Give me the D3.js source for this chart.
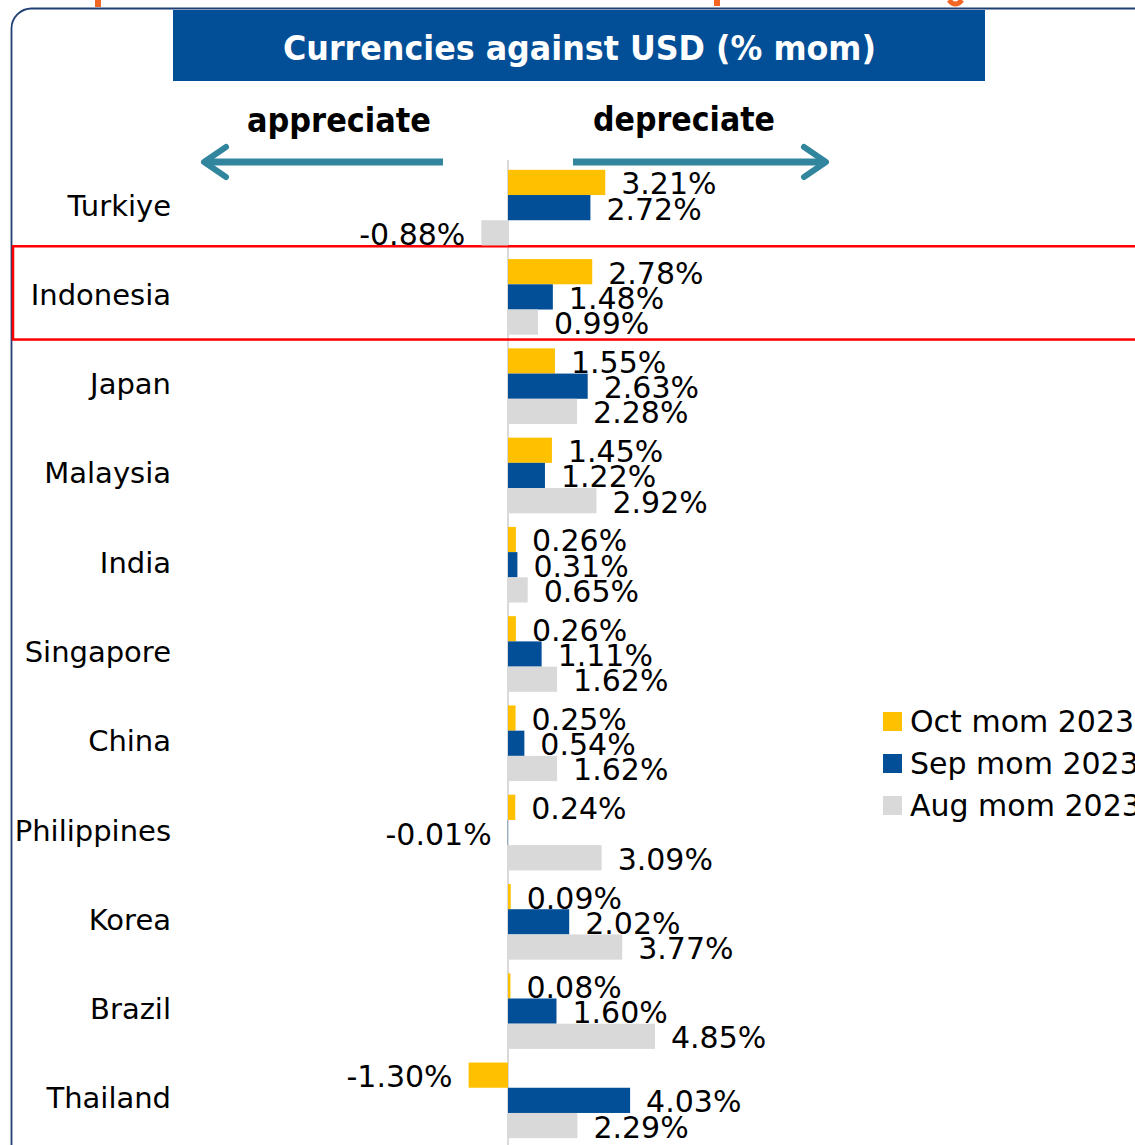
<!DOCTYPE html>
<html><head><meta charset="utf-8">
<script src="https://cdn.jsdelivr.net/npm/d3@7"></script>
<style>
html,body{margin:0;padding:0;background:#fff;overflow:hidden}
text{font-family:"DejaVu Sans",sans-serif}
</style></head>
<body>
<svg id="c" width="1135" height="1145"></svg>
<script>
const categories = ["Turkiye","Indonesia","Japan","Malaysia","India","Singapore","China","Philippines","Korea","Brazil","Thailand"];
const series = ["Oct mom 2023","Sep mom 2023","Aug mom 2023"];
const octValues = [3.21,2.78,1.55,1.45,0.26,0.26,0.25,0.24,0.09,0.08,-1.30];
const sepValues = [2.72,1.48,2.63,1.22,0.31,1.11,0.54,-0.01,2.02,1.60,4.03];
const augValues = [-0.88,0.99,2.28,2.92,0.65,1.62,1.62,3.09,3.77,4.85,2.29];
const colors = ["#FFC000","#034F97","#D9D9D9"];
const title = "Currencies against USD (% mom)";
const highlight = "Indonesia";

const svg = d3.select("#c");
const valuesBySeries = [octValues, sepValues, augValues];

// cut-off orange heading descenders above the frame (decorative)
const orange = "#F26522";
svg.append("rect").attr("x",95).attr("y",0).attr("width",6).attr("height",7).attr("fill",orange);
svg.append("rect").attr("x",714).attr("y",0).attr("width",6).attr("height",6).attr("fill",orange);
svg.append("path").attr("d","M949,0 Q955,8 962,0").attr("fill","none").attr("stroke",orange).attr("stroke-width",5);

// outer frame
svg.append("rect").attr("x",11.5).attr("y",8.5).attr("width",1160).attr("height",1170)
  .attr("rx",20).attr("fill","none").attr("stroke","#1F3F73").attr("stroke-width",1.8);

// title box
svg.append("rect").attr("x",173).attr("y",10).attr("width",812).attr("height",71).attr("fill","#034F97");
svg.append("text").attr("x",283).attr("y",60)
  .attr("fill","#fff").attr("font-weight","bold").attr("font-size",33)
  .attr("textLength",593).attr("lengthAdjust","spacingAndGlyphs").text(title);

// scales
const x = d3.scaleLinear().domain([0,1]).range([508,538.3]);
const y0 = d3.scaleBand().domain(categories).range([163,1145]).padding(0);
const y1 = d3.scaleBand().domain(series).range([0,y0.bandwidth()]).paddingInner(0).paddingOuter(0.27);

// direction labels & arrows
svg.append("text").attr("x",247).attr("y",132).attr("font-weight","bold").attr("font-size",34)
  .attr("textLength",184).attr("lengthAdjust","spacingAndGlyphs").text("appreciate");
svg.append("text").attr("x",593).attr("y",131).attr("font-weight","bold").attr("font-size",34)
  .attr("textLength",182).attr("lengthAdjust","spacingAndGlyphs").text("depreciate");
const ac = "#31869E";
const arrows = [[443,204,-1],[573,826,1]];
arrows.forEach(([a,b,d])=>{
  svg.append("line").attr("x1",a).attr("x2",b).attr("y1",162).attr("y2",162).attr("stroke",ac).attr("stroke-width",7);
  svg.append("path").attr("d",`M${b-d*22},${147} L${b},${162} L${b-d*22},${177}`)
    .attr("fill","none").attr("stroke",ac).attr("stroke-width",6).attr("stroke-linecap","round").attr("stroke-linejoin","round");
});

// zero line
svg.append("line").attr("x1",x(0)).attr("x2",x(0)).attr("y1",160).attr("y2",1145).attr("stroke","#D9D9D9").attr("stroke-width",2);

// highlight rectangle
svg.append("rect").attr("x",13).attr("y",y0(highlight)-6).attr("width",1140).attr("height",y0.bandwidth()+4)
  .attr("fill","none").attr("stroke","#FF0000").attr("stroke-width",2.5);

// bars
const groups = svg.selectAll("g.cat").data(categories).join("g").attr("class","cat")
  .attr("transform",d=>`translate(0,${y0(d)})`);
groups.each(function(cat,i){
  const g = d3.select(this);
  series.forEach((s,j)=>{
    const v = valuesBySeries[j][i];
    g.append("rect").attr("x",x(Math.min(0,v))).attr("y",y1(s))
      .attr("width",Math.abs(x(v)-x(0))).attr("height",y1.bandwidth()).attr("fill",colors[j]);
    const lbl = g.append("text").attr("y",y1(s)+y1.bandwidth()/2+12).attr("font-size",30)
      .text(v.toFixed(2)+"%");
    if(v>=0) lbl.attr("x",x(v)+16).attr("text-anchor","start");
    else lbl.attr("x",x(v)-16).attr("text-anchor","end");
  });
  g.append("text").attr("x",171).attr("y",y0.bandwidth()/2+8).attr("text-anchor","end")
    .attr("font-size",29).text(cat);
});

// legend
const lg = svg.append("g");
series.forEach((s,j)=>{
  lg.append("rect").attr("x",883).attr("y",712+j*42).attr("width",19).attr("height",19).attr("fill",colors[j]);
  lg.append("text").attr("x",910).attr("y",732+j*42).attr("font-size",30).text(s);
});
</script>
</body></html>
